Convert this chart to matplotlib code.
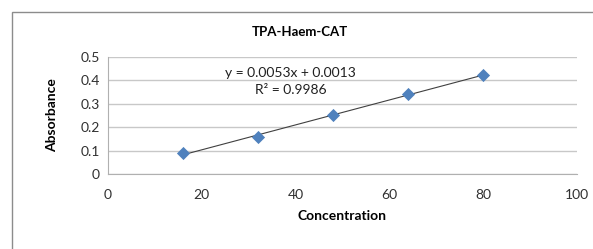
import numpy as np
import matplotlib
matplotlib.use("Agg")
import matplotlib.pyplot as plt
from matplotlib.patches import Rectangle

plt.rcParams['font.family'] = ['Lato', 'DejaVu Sans']

concentration = [16, 32, 48, 64, 80]
absorbance = [0.088, 0.159, 0.252, 0.341, 0.423]
equation = "y = 0.0053x + 0.0013"
r_squared = "R² = 0.9986"

fig = plt.figure(figsize=(5.93, 2.49), dpi=100)
ax = fig.add_axes([0.182, 0.301, 0.791, 0.470])

# outer chart border (open at bottom/right like the crop)
fig.patches.append(Rectangle((12 / 593, -0.1), 1.1, 1 - 12 / 249 + 0.1,
                             transform=fig.transFigure, fill=False,
                             edgecolor="#8c8c8c", linewidth=1.0))

slope, intercept = np.polyfit(concentration, absorbance, 1)
xs = np.array([concentration[0], concentration[-1]])
ax.plot(xs, slope * xs + intercept, color="#404040", linewidth=0.8, zorder=3)
ax.scatter(concentration, absorbance, marker="D", s=45, color="#4f81bd",
           zorder=4, linewidths=0)

ax.set_xlim(0, 100)
ax.set_ylim(0, 0.5)
ax.set_xticks(range(0, 101, 20))
ax.set_yticks([0, 0.1, 0.2, 0.3, 0.4, 0.5])
ax.set_yticklabels(["0", "0.1", "0.2", "0.3", "0.4", "0.5"])
ax.grid(axis="y", color="#c8c8c8", linewidth=1.0)
ax.set_axisbelow(True)
for side in ["top", "right"]:
    ax.spines[side].set_visible(False)
for side in ["left", "bottom"]:
    ax.spines[side].set_color("#b0b0b0")
ax.tick_params(length=0, labelsize=10, colors="#303030", pad=6)
ax.tick_params(axis="x", pad=11)

ax.set_xlabel("Concentration", fontsize=10, fontweight="bold", labelpad=6)
ax.set_ylabel("Absorbance", fontsize=10, fontweight="bold", labelpad=16)
fig.text(300 / 593, 1 - 32 / 249, "TPA-Haem-CAT", ha="center", va="center",
         fontsize=9.5, fontweight="bold")

ax.text(39, 0.432, equation, ha="center", va="center", fontsize=10,
        color="#202020")
ax.text(39, 0.36, r_squared, ha="center", va="center", fontsize=10,
        color="#202020")

fig.savefig("out.png", dpi=100)
